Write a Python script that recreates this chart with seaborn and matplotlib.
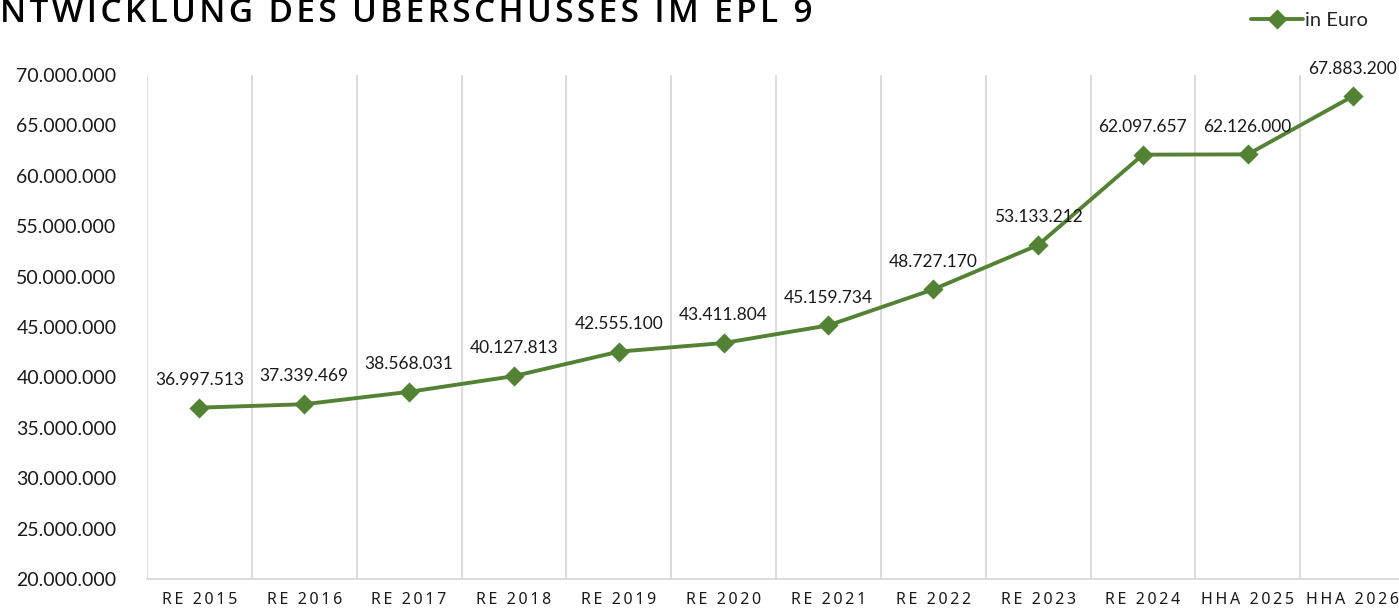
import numpy as np
import matplotlib
matplotlib.use("Agg")
import matplotlib.pyplot as plt
import seaborn as sns

# Chart data
categories = ["RE 2015", "RE 2016", "RE 2017", "RE 2018", "RE 2019", "RE 2020",
              "RE 2021", "RE 2022", "RE 2023", "RE 2024", "HHA 2025", "HHA 2026"]
values = [36997513, 37339469, 38568031, 40127813, 42555100, 43411804,
          45159734, 48727170, 53133212, 62097657, 62126000, 67883200]
y_ticks = [20000000, 25000000, 30000000, 35000000, 40000000, 45000000,
           50000000, 55000000, 60000000, 65000000, 70000000]
title = "ENTWICKLUNG DES ÜBERSCHUSSES IM EPL 9"

green = "#548235"
txt = "#1a1a1a"

sns.set_theme(style="white")
plt.rcParams['font.family'] = ['Lato', 'DejaVu Sans']


def de_fmt(v):
    return f"{v:,.0f}".replace(",", ".")


def spaced(s, sep):
    # letter-spaced look
    return sep.join(s)


fig = plt.figure(figsize=(13.99, 6.12), dpi=100)
ax = fig.add_axes([147 / 1399, 1 - 579 / 612, (1405 - 147) / 1399, (579 - 75) / 612])

sns.pointplot(x=categories, y=values, ax=ax, color=green, markers="D",
              linewidth=2.8, markersize=8, label="in Euro")

ax.set_ylim(20000000, 70000000)
ax.set_xlim(-0.5, len(categories) - 0.5)
ax.set_yticks(y_ticks)
ax.set_yticklabels([de_fmt(v) for v in y_ticks], fontsize=14, color=txt)
ax.set_xticks(range(len(categories)))
ax.set_xticklabels([spaced(c, "\u2009") for c in categories], fontsize=11.5,
                   family=['Noto Sans', 'DejaVu Sans'], color=txt)
ax.tick_params(axis="x", length=0, pad=9)
ax.tick_params(axis="y", length=0, pad=22)

# vertical gridlines between categories
ax.set_xticks(np.arange(-0.5, len(categories)), minor=True)
ax.tick_params(axis="x", which="minor", length=0)
ax.grid(False)
ax.grid(True, which="minor", axis="x", color="#d9d9d9", linewidth=1.3)
ax.set_xlabel("")
ax.set_ylabel("")

for s in ["top", "right", "left"]:
    ax.spines[s].set_visible(False)
ax.spines["bottom"].set_color("#d9d9d9")
ax.spines["bottom"].set_linewidth(1.3)

# data labels
for i, v in enumerate(values):
    ax.annotate(de_fmt(v), (i, v), xytext=(0, 20), textcoords="offset points",
                ha="center", va="center", fontsize=12.5, color=txt,
                annotation_clip=False)

# legend
ax.legend(loc="upper right", bbox_to_anchor=(1380 / 1399, 1.0),
          bbox_transform=fig.transFigure, frameon=False, fontsize=14.5,
          handlelength=2.6, handletextpad=0.1, borderaxespad=0.2)

# title, its first letter cut off by the left edge (as in the original)
title_props = dict(fontsize=24, family=['Open Sans', 'Noto Sans', 'DejaVu Sans'],
                   weight="semibold", color="black")
title_s = spaced(title, "\u200a")
renderer = fig.canvas.get_renderer()
t_full = fig.text(0, 0, title_s, **title_props)
t_rest = fig.text(0, 0, title_s[2:], **title_props)
cut = t_full.get_window_extent(renderer).width - t_rest.get_window_extent(renderer).width
t_full.remove()
t_rest.remove()
fig.text(-cut / 1399, 1 - 22 / 612, title_s, ha="left", va="baseline", **title_props)

fig.savefig("out.png", dpi=100)
